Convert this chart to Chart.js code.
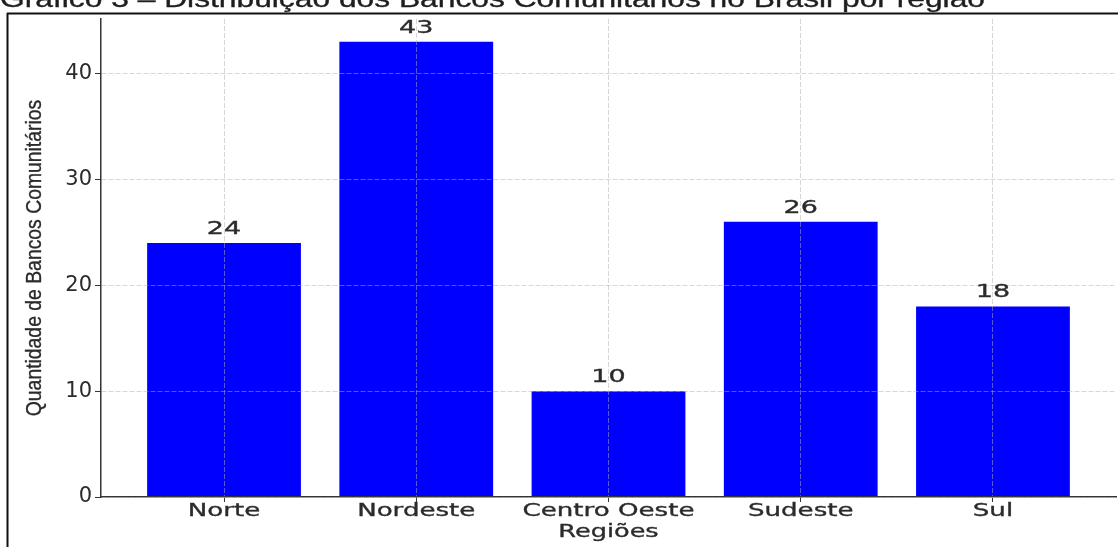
<!DOCTYPE html>
<html lang="pt-BR">
<head>
<meta charset="utf-8">
<title>Bancos Comunitários por região</title>
<script src="https://cdn.jsdelivr.net/npm/chart.js@4.4.1/dist/chart.umd.min.js"></script>
<style>
  html, body { margin: 0; padding: 0; background: #ffffff; }
  #wrap { position: relative; width: 1118px; height: 547px; }
</style>
</head>
<body>
<div id="wrap"><canvas id="chart"></canvas></div>
<script>
// Bancos Comunitários por região do Brasil
const categories = ['Norte', 'Nordeste', 'Centro Oeste', 'Sudeste', 'Sul'];
const bancos = [24, 43, 10, 26, 18];
const yTicks = [0, 10, 20, 30, 40];

const heading = 'Gráfico 3 – Distribuição dos Bancos Comunitários no Brasil por região';
const xTitle = 'Regiões';
const yTitle = 'Quantidade de Bancos Comunitários';

const textColor = '#2b2b2b';
const barColor = '#0000ff';

// bar width 0.8 of a slot, with 5% margins on each side of the bar extent
const barWidth = 0.8;
const span = (categories.length - 1) + barWidth;
const xMin = -barWidth / 2 - 0.05 * span;
const xMax = (categories.length - 1) + barWidth / 2 + 0.05 * span;
const yMax = Math.max(...bancos) * 1.05;

// draws text squeezed or widened along its baseline, with a hairline outline for weight
function drawScaled(ctx, text, x, y, font, sx, align, angle) {
  ctx.save();
  ctx.font = font;
  ctx.textBaseline = 'alphabetic';
  ctx.textAlign = 'left';
  ctx.translate(x, y);
  if (angle) ctx.rotate(angle);
  ctx.scale(sx, 1);
  const w = ctx.measureText(text).width;
  let ox = 0;
  if (align === 'center') ox = -w / 2;
  else if (align === 'right') ox = -w;
  ctx.fillText(text, ox, 0);
  ctx.strokeStyle = ctx.fillStyle;
  ctx.lineWidth = 0.35;
  ctx.strokeText(text, ox, 0);
  ctx.restore();
}

const decorations = {
  id: 'decorations',
  afterDraw(chart) {
    const ctx = chart.ctx;
    const area = chart.chartArea;
    const xs = chart.scales.x;
    const ys = chart.scales.y;
    ctx.save();

    // outer frame (top and left edges)
    ctx.strokeStyle = '#111111';
    ctx.lineWidth = 2;
    ctx.beginPath();
    ctx.moveTo(7, 13.5);
    ctx.lineTo(chart.width, 13.5);
    ctx.moveTo(7.5, 13);
    ctx.lineTo(7.5, chart.height);
    ctx.stroke();

    // caption above the frame
    const headFont = '23px "Liberation Sans", Arial, sans-serif';
    ctx.font = headFont;
    const hw = ctx.measureText(heading).width;
    ctx.fillStyle = '#1e1e1e';
    drawScaled(ctx, heading, 0, 7, headFont, 985 / hw, 'left');

    ctx.fillStyle = textColor;
    // category labels under the axis
    categories.forEach((c, i) => {
      drawScaled(ctx, c, xs.getPixelForValue(i), area.bottom + 19,
        '18px "DejaVu Sans", sans-serif', 1.45, 'center');
    });

    // value labels above each bar
    const meta = chart.getDatasetMeta(0);
    meta.data.forEach((bar, i) => {
      drawScaled(ctx, String(bancos[i]), bar.x, ys.getPixelForValue(bancos[i]) - 9,
        '18px "DejaVu Sans", sans-serif', 1.5, 'center');
    });

    // axis titles
    drawScaled(ctx, xTitle, (area.left + area.right) / 2, area.bottom + 40,
      '18px "DejaVu Sans", sans-serif', 1.42, 'center');
    drawScaled(ctx, yTitle, 41, (area.top + area.bottom) / 2,
      '22px "Liberation Sans", Arial, sans-serif', 0.88, 'center', -Math.PI / 2);

    ctx.restore();
  }
};

const gridColor = 'rgba(176,176,176,0.5)';

new Chart(document.getElementById('chart'), {
  type: 'bar',
  data: {
    datasets: [{
      label: yTitle,
      data: bancos.map((v, i) => ({ x: i, y: v })),
      backgroundColor: barColor,
      borderWidth: 0,
      categoryPercentage: 1,
      barPercentage: barWidth
    }]
  },
  options: {
    responsive: true,
    maintainAspectRatio: false,
    devicePixelRatio: 1,
    animation: false,
    layout: { padding: { left: 0, right: 2, top: 19, bottom: 0 } },
    plugins: {
      legend: { display: false },
      tooltip: { enabled: false },
      title: { display: false }
    },
    scales: {
      x: {
        type: 'linear',
        offset: false,
        min: xMin,
        max: xMax,
        afterBuildTicks: (scale) => { scale.ticks = categories.map((_, i) => ({ value: i })); },
        afterFit: (scale) => { scale.height = 50; },
        ticks: { display: false },
        grid: {
          offset: false,
          color: gridColor,
          lineWidth: 1,
          drawTicks: true,
          tickLength: 5,
          tickColor: '#333333',
          tickBorderDash: [],
          z: 1
        },
        border: { display: true, color: '#333333', width: 1.5, dash: [5, 2], z: 1 }
      },
      y: {
        min: 0,
        max: yMax,
        afterBuildTicks: (scale) => { scale.ticks = yTicks.map(v => ({ value: v })); },
        afterFit: (scale) => { scale.width = 101; },
        ticks: {
          color: textColor,
          font: { family: '"DejaVu Sans", sans-serif', size: 21 },
          padding: 3
        },
        grid: {
          color: gridColor,
          lineWidth: 1,
          drawTicks: true,
          tickLength: 6,
          tickColor: '#333333',
          tickBorderDash: [],
          z: 1
        },
        border: { display: true, color: '#333333', width: 1.5, dash: [5, 2], z: 1 }
      }
    }
  },
  plugins: [decorations]
});
</script>
</body>
</html>
